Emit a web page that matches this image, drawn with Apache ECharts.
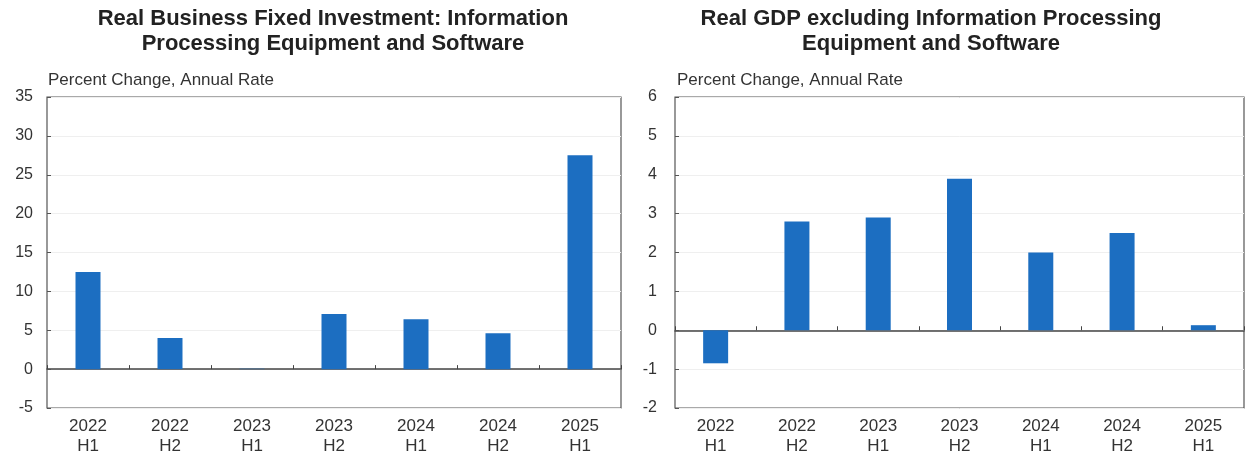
<!DOCTYPE html>
<html><head><meta charset="utf-8">
<script src="https://cdn.jsdelivr.net/npm/echarts@6/dist/echarts.min.js"></script>
<style>html,body{margin:0;padding:0;background:#fff}#c{width:1247px;height:461px}</style>
</head><body><div id="c"></div>
<script>
const categories = ['2022\nH1','2022\nH2','2023\nH1','2023\nH2','2024\nH1','2024\nH2','2025\nH1'];
const investmentValues = [12.5, 4.0, 0.05, 7.1, 6.4, 4.6, 27.5];
const gdpExValues = [-0.85, 2.8, 2.9, 3.9, 2.0, 2.5, 0.13];
const leftTitle = 'Real Business Fixed Investment: Information\nProcessing Equipment and Software';
const rightTitle = 'Real GDP excluding Information Processing\nEquipment and Software';
const unitLabel = 'Percent Change, Annual Rate';
const leftTicks = {min: -5, max: 35, interval: 5};
const rightTicks = {min: -2, max: 6, interval: 1};

const font = 'Liberation Sans, Arial, sans-serif';
const barColor = '#1c6ec1';
const chart = echarts.init(document.getElementById('c'));

function labelAxis(gi) {
  return {type:'category', gridIndex:gi, data:categories, position:'bottom',
    axisLine:{onZero:false, show:false}, axisTick:{show:false},
    axisLabel:{color:'#333', fontSize:17, fontFamily:font, lineHeight:20, margin:8}};
}
function zeroAxis(gi) {
  return {type:'category', gridIndex:gi, data:categories, position:'bottom',
    axisLine:{onZero:true, lineStyle:{color:'#444', width:1.5}},
    axisTick:{show:true, inside:true, length:4, lineStyle:{color:'#444'}},
    axisLabel:{show:false}};
}
function yAx(gi, t, margin) {
  return {type:'value', gridIndex:gi, min:t.min, max:t.max, interval:t.interval,
    axisLine:{show:false}, axisTick:{show:true, inside:true, length:4, lineStyle:{color:'#555'}},
    splitLine:{show:true, lineStyle:{color:'#efefef'}},
    axisLabel:{color:'#333', fontSize:16, fontFamily:font, margin:margin}};
}

chart.setOption({
  animation:false,
  title:[
    {text:leftTitle, left:333, top:6, padding:0, textAlign:'center', textStyle:{fontFamily:font, fontWeight:'bold', fontSize:22, lineHeight:25, color:'#222'}},
    {text:rightTitle, left:931, top:6, padding:0, textAlign:'center', textStyle:{fontFamily:font, fontWeight:'bold', fontSize:22, lineHeight:25, color:'#222'}},
    {text:unitLabel, left:48, top:72, padding:0, textStyle:{fontFamily:font, fontWeight:'normal', fontSize:17, color:'#333'}},
    {text:unitLabel, left:677, top:72, padding:0, textStyle:{fontFamily:font, fontWeight:'normal', fontSize:17, color:'#333'}}
  ],
  grid:[
    {left:47, right:626, top:97, bottom:53, show:true, borderColor:'#555', borderWidth:1.2, backgroundColor:'#fff'},
    {left:675, right:3, top:97, bottom:53, show:true, borderColor:'#555', borderWidth:1.2, backgroundColor:'#fff'}
  ],
  xAxis:[labelAxis(0), zeroAxis(0), labelAxis(1), zeroAxis(1)],
  yAxis:[yAx(0, leftTicks, 14), yAx(1, rightTicks, 18)],
  series:[
    {type:'bar', xAxisIndex:0, yAxisIndex:0, data:investmentValues, barWidth:25, itemStyle:{color:barColor}},
    {type:'bar', xAxisIndex:2, yAxisIndex:1, data:gdpExValues, barWidth:25, itemStyle:{color:barColor}}
  ]
});
</script></body></html>
